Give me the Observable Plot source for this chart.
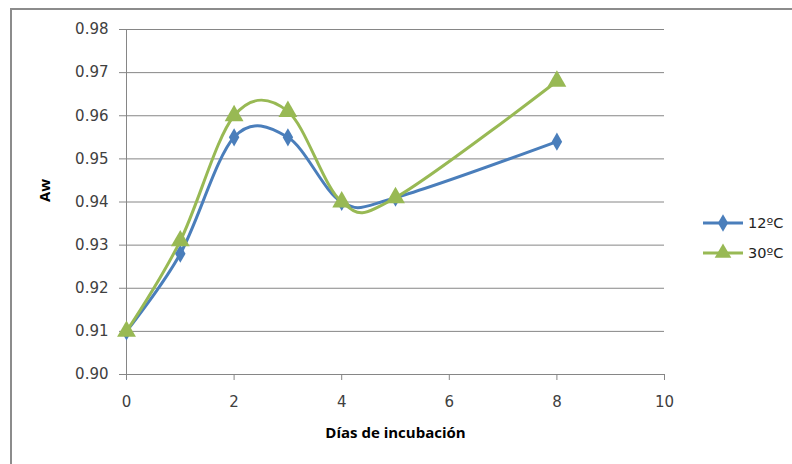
<!DOCTYPE html>
<html><head><meta charset="utf-8">
<script src="https://cdn.jsdelivr.net/npm/d3@7"></script>
<script src="https://cdn.jsdelivr.net/npm/@observablehq/plot@0.6"></script>
<style>body{margin:0;background:#fff}#chart{position:relative;width:792px;height:464px}</style>
</head><body><div id="chart"></div>
<script>
const days = [0, 1, 2, 3, 4, 5, 8];
const aw12 = [0.910, 0.928, 0.955, 0.955, 0.940, 0.941, 0.954];
const aw30 = [0.910, 0.931, 0.960, 0.961, 0.940, 0.941, 0.968];
const seriesNames = ["12ºC", "30ºC"];
const seriesColors = ["#4a7ebb", "#98b954"];
const yTicks = [0.90, 0.91, 0.92, 0.93, 0.94, 0.95, 0.96, 0.97, 0.98];
const xTicks = [0, 2, 4, 6, 8, 10];

const d12 = days.map((d, i) => ({day: d, aw: aw12[i]}));
const d30 = days.map((d, i) => ({day: d, aw: aw30[i]}));

const plot = Plot.plot({
  width: 792, height: 464,
  marginLeft: 126, marginRight: 128, marginTop: 29, marginBottom: 90,
  style: {fontFamily: "DejaVu Sans", fontSize: "15px", color: "#404040", background: "#fff"},
  x: {domain: [0, 10], label: null},
  y: {domain: [0.90, 0.98], label: null},
  marks: [
    Plot.ruleY(yTicks, {x1: 0, x2: 10, stroke: "#868686", strokeWidth: 1}),
    Plot.ruleX([0], {y1: 0.90, y2: 0.98, stroke: "#868686"}),
    Plot.ruleY([0.90], {x1: 0, x2: 10, stroke: "#868686"}),
    Plot.axisX({ticks: xTicks, tickSize: 6, tickPadding: 16, stroke: "#868686", fill: "#404040", fontSize: 15}),
    Plot.axisY({ticks: yTicks, tickFormat: d3.format(".2f"), tickSize: 7, tickPadding: 11, stroke: "#868686", fill: "#404040", fontSize: 15}),
    Plot.line(d12, {x: "day", y: "aw", curve: "cardinal", tension: 0, stroke: seriesColors[0], strokeWidth: 3}),
    Plot.line(d30, {x: "day", y: "aw", curve: "cardinal", tension: 0, stroke: seriesColors[1], strokeWidth: 3}),
    Plot.dot(d12, {x: "day", y: "aw", symbol: "diamond", r: 5.5, fill: seriesColors[0]}),
    Plot.dot(d30, {x: "day", y: "aw", symbol: "triangle", r: 7, fill: seriesColors[1]}),
    Plot.text(["Aw"], {frameAnchor: "left", dx: -81, rotate: -90, text: d => d, fontFamily: "Open Sans", fontWeight: "bold", fontSize: 15, fill: "#000"}),
    Plot.text(["Días de incubación"], {frameAnchor: "bottom", dy: 63, text: d => d, fontFamily: "Open Sans", fontWeight: "bold", fontSize: 15, fill: "#000"})
  ]
});
document.getElementById("chart").appendChild(plot);

const svg = d3.select(plot);
// outer chart border
svg.append("rect").attr("x", 11).attr("y", 9).attr("width", 1000).attr("height", 1000)
  .attr("fill", "none").attr("stroke", "#8c8c8c").attr("stroke-width", 2);

// legend
const legY = [223, 253];
const sym = [d3.symbol(d3.symbolDiamond, 90), d3.symbol(d3.symbolTriangle, 120)];
seriesNames.forEach((name, i) => {
  const g = svg.append("g").attr("transform", `translate(0,${legY[i]})`);
  g.append("line").attr("x1", 703).attr("x2", 743).attr("y1", 0).attr("y2", 0)
    .attr("stroke", seriesColors[i]).attr("stroke-width", 3);
  g.append("path").attr("d", sym[i]()).attr("transform", "translate(723,0)").attr("fill", seriesColors[i]);
  g.append("text").attr("x", 748).attr("y", 0).attr("dy", "0.35em").text(name)
    .attr("text-anchor", "start")
    .attr("font-family", "DejaVu Sans").attr("font-size", 14.5).attr("fill", "#222");
});
</script></body></html>
